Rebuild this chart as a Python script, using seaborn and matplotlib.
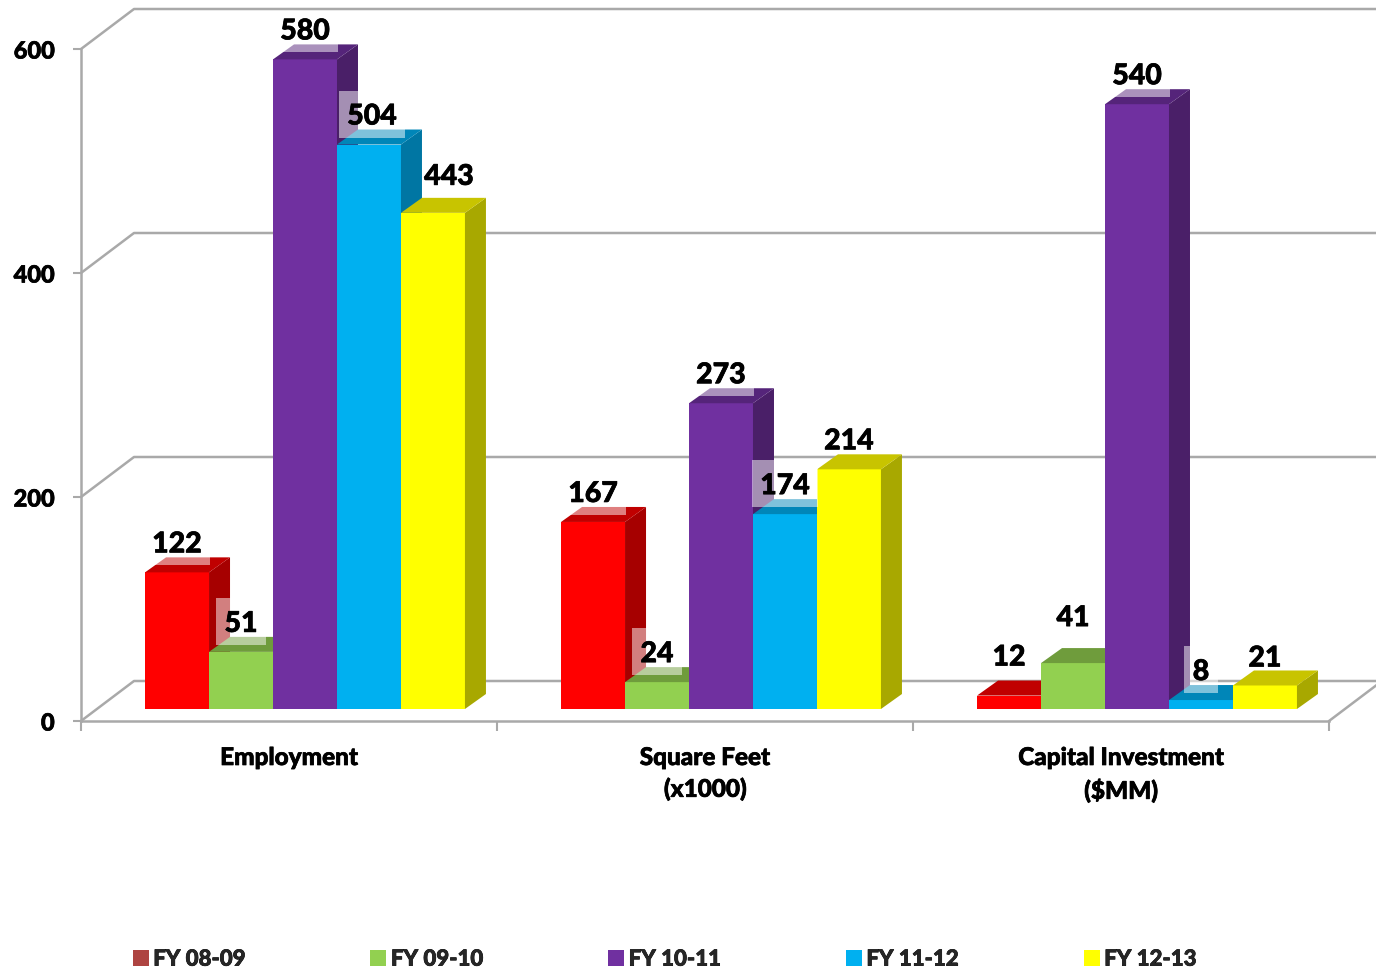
import matplotlib
matplotlib.use("Agg")
import matplotlib.pyplot as plt
import matplotlib.patheffects as pe
from matplotlib.patches import Patch, Polygon, Rectangle
from matplotlib.transforms import IdentityTransform
import pandas as pd
import seaborn as sns

categories = ['Employment', 'Square Feet\n(x1000)', 'Capital Investment\n($MM)']
years = ['FY 08-09', 'FY 09-10', 'FY 10-11', 'FY 11-12', 'FY 12-13']
fy0809 = [122, 167, 12]
fy0910 = [51, 24, 41]
fy1011 = [580, 273, 540]
fy1112 = [504, 174, 8]
fy1213 = [443, 214, 21]

front_colors = ['#ff0000', '#92d050', '#7030a0', '#00b0f0', '#ffff00']
top_colors = ['#c00000', '#6f9c3c', '#55247a', '#0086b8', '#c8c400']
side_colors = ['#a60000', '#5f8532', '#4a1f68', '#0076a3', '#a8a800']
legend_colors = ['#ae4441', '#92d050', '#7030a0', '#00b0f0', '#ffff00']
grid_color = '#a9a9a9'

W, H = 1376, 970
DEPTH = (21, 15)       # bar depth in pixels
WALL = (53, 40)        # chart floor depth in pixels
WEIGHT = 900
THICK = [pe.withStroke(linewidth=0.5, foreground='black')]  # Lato is a bit light next to the original

sns.set_theme(style='white')
plt.rcParams['font.family'] = ['Lato', 'DejaVu Sans']
plt.rcParams['font.weight'] = WEIGHT

df = pd.DataFrame({
    'category': categories * 5,
    'year': [y for y in years for _ in categories],
    'value': fy0809 + fy0910 + fy1011 + fy1112 + fy1213,
})


def box(left, right, y0, y600):
    return [left / W, (H - y0) / H, (right - left) / W, (y0 - y600) / H]


fig = plt.figure(figsize=(W / 100, H / 100), dpi=100, facecolor='white')

# back axes: the frame, ticks and walls
ax_bg = fig.add_axes(box(81, 1329, 722, 50))
ax_bg.set_xlim(-0.5, 2.5)
ax_bg.set_ylim(0, 600)
ax_bg.patch.set_alpha(0)
for name in ['top', 'right']:
    ax_bg.spines[name].set_visible(False)
for name in ['left', 'bottom']:
    ax_bg.spines[name].set_color(grid_color)
    ax_bg.spines[name].set_linewidth(1.8)
ax_bg.set_xticks([-0.5, 0.5, 1.5, 2.5])
ax_bg.set_xticklabels([])
ax_bg.set_xticks([0, 1, 2], labels=categories, minor=True)
ax_bg.tick_params(axis='x', which='major', length=7, width=1.5, color=grid_color, bottom=True)
ax_bg.tick_params(axis='x', which='minor', length=0, pad=18, labelsize=17.5, labelcolor='black')
ax_bg.set_yticks([0, 200, 400, 600])
ax_bg.tick_params(axis='y', length=6, width=1.5, color=grid_color, left=True, pad=13,
                  labelsize=17, labelcolor='black')
for t in ax_bg.get_xticklabels(minor=True) + ax_bg.get_yticklabels():
    t.set_fontweight(WEIGHT)
    t.set_path_effects(THICK)
for t in ax_bg.get_xticklabels(minor=True):
    t.set_linespacing(1.42)

for v in [0, 200, 400, 600]:
    x0, y0 = ax_bg.transData.transform((-0.5, v))
    ax_bg.plot([x0, x0 + WALL[0], W + 10], [y0, y0 + WALL[1], y0 + WALL[1]],
               transform=IdentityTransform(), color=grid_color, lw=1.8, clip_on=False, zorder=1)
x0, y0 = ax_bg.transData.transform((2.5, 0))
ax_bg.plot([x0, x0 + WALL[0]], [y0, y0 + WALL[1]], transform=IdentityTransform(),
           color=grid_color, lw=1.8, clip_on=False, zorder=1)

# front axes: the bars sit a bit in front of the frame
ax = fig.add_axes(box(97, 1345, 710, 38))
ax.patch.set_alpha(0)
sns.barplot(data=df, x='category', y='value', hue='year', order=categories, hue_order=years,
            palette=front_colors, saturation=1, width=0.769, gap=0, legend=False,
            edgecolor='none', linewidth=0, ax=ax)
ax.set_xlim(-0.5, 2.5)
ax.set_ylim(0, 600)
ax.axis('off')

no_box = {443, 214, 12, 41, 21}
label_shift = {443: (16, 8), 12: (0, 10), 41: (0, 17), 504: (3, 0), 21: (0, -1)}
renderer = fig.canvas.get_renderer()

for s, container in enumerate(ax.containers):
    for bar in container.patches:
        bar.set_zorder(5 + s)
        bar.set_clip_on(False)
        (x1, y1) = ax.transData.transform((bar.get_x(), 0))
        (x2, y2) = ax.transData.transform((bar.get_x() + bar.get_width(), bar.get_height()))
        dx, dy = DEPTH
        side = Polygon([(x2, y1), (x2 + dx, y1 + dy), (x2 + dx, y2 + dy), (x2, y2)],
                       transform=IdentityTransform(), fc=side_colors[s], ec='none', zorder=5 + s)
        top = Polygon([(x1, y2), (x2, y2), (x2 + dx, y2 + dy), (x1 + dx, y2 + dy)],
                      transform=IdentityTransform(), fc=top_colors[s], ec='none', zorder=5 + s)
        ax.add_patch(side)
        ax.add_patch(top)

        value = int(round(bar.get_height()))
        sx, sy = label_shift.get(value, (0, 0))
        cx = (x1 + x2) / 2 + sx
        cy = y2 + 28 + sy
        txt = ax.text(cx, cy, str(value), transform=IdentityTransform(), ha='center', va='center',
                      fontsize=20.5, fontweight=WEIGHT, color='black', zorder=21, path_effects=THICK)
        if value not in no_box:
            ext = txt.get_window_extent(renderer)
            ax.add_patch(Rectangle((ext.x0 - 8.5, y2 + 7), ext.width + 17, 47, transform=IdentityTransform(),
                                   fc='white', ec='none', alpha=0.5, zorder=20))

handles = [Patch(fc=c, ec='none') for c in legend_colors]
leg = fig.legend(handles, years, ncol=5, frameon=False, loc='lower left',
                 bbox_to_anchor=(115 / W, -0.019), handlelength=0.72, handleheight=0.72,
                 handletextpad=0.2, columnspacing=5.62, borderpad=0.3,
                 prop={'size': 16, 'weight': WEIGHT})
for t in leg.get_texts():
    t.set_path_effects(THICK)

plt.savefig('out.png', dpi=100)
